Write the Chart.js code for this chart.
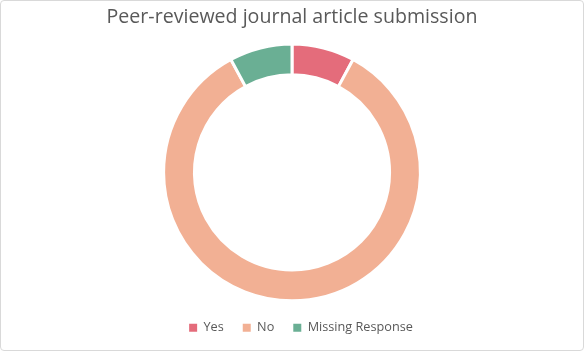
<!DOCTYPE html>
<html>
<head>
<meta charset="utf-8">
<script src="https://cdn.jsdelivr.net/npm/chart.js@4"></script>
<style>
  html, body { margin: 0; padding: 0; background: #fff; }
  #wrap {
    position: relative;
    width: 584px; height: 351px;
    box-sizing: border-box;
    border: 1px solid #d9d9d9;
    border-radius: 4px;
  }
</style>
</head>
<body>
<div id="wrap"><canvas id="chart"></canvas></div>
<script>
// data
const labels = ['Yes', 'No', 'Missing Response']
const counts = [3, 32, 3]
const colours = ['#E46C7B', '#F2B094', '#6AAF94']

const data = {
  labels: labels,
  datasets: [{
    data: counts,
    backgroundColor: colours,
    borderColor: '#ffffff',
    borderWidth: 3,
    hoverOffset: 0
  }]
}

// legend in the original sits a bit right of centre
const legendShift = {
  id: 'legendShift',
  afterLayout(chart) {
    chart.legend.left += 9
    chart.legend.right += 9
  }
}

const config = {
  type: 'doughnut',
  data,
  options: {
    responsive: true,
    maintainAspectRatio: false,
    animation: false,
    cutout: '76%',
    layout: { padding: { top: 0, bottom: 6 } },
    plugins: {
      title: {
        display: true,
        text: 'Peer-reviewed journal article submission',
        color: '#595959',
        font: { family: 'Open Sans', size: 19.6, weight: 'normal' },
        padding: { top: 5, bottom: 13 }
      },
      legend: {
        position: 'bottom',
        labels: {
          color: '#595959',
          font: { family: 'Open Sans', size: 12.7 },
          boxWidth: 8,
          boxHeight: 8,
          padding: 19,
          generateLabels(chart) {
            // plain squares, no white slice border on the legend boxes
            return Chart.overrides.doughnut.plugins.legend.labels.generateLabels(chart)
              .map(item => Object.assign(item, { lineWidth: 0 }))
          }
        }
      },
      tooltip: { enabled: false }
    }
  },
  plugins: [legendShift]
}

const chart = new Chart(document.getElementById('chart'), config)
</script>
</body>
</html>
